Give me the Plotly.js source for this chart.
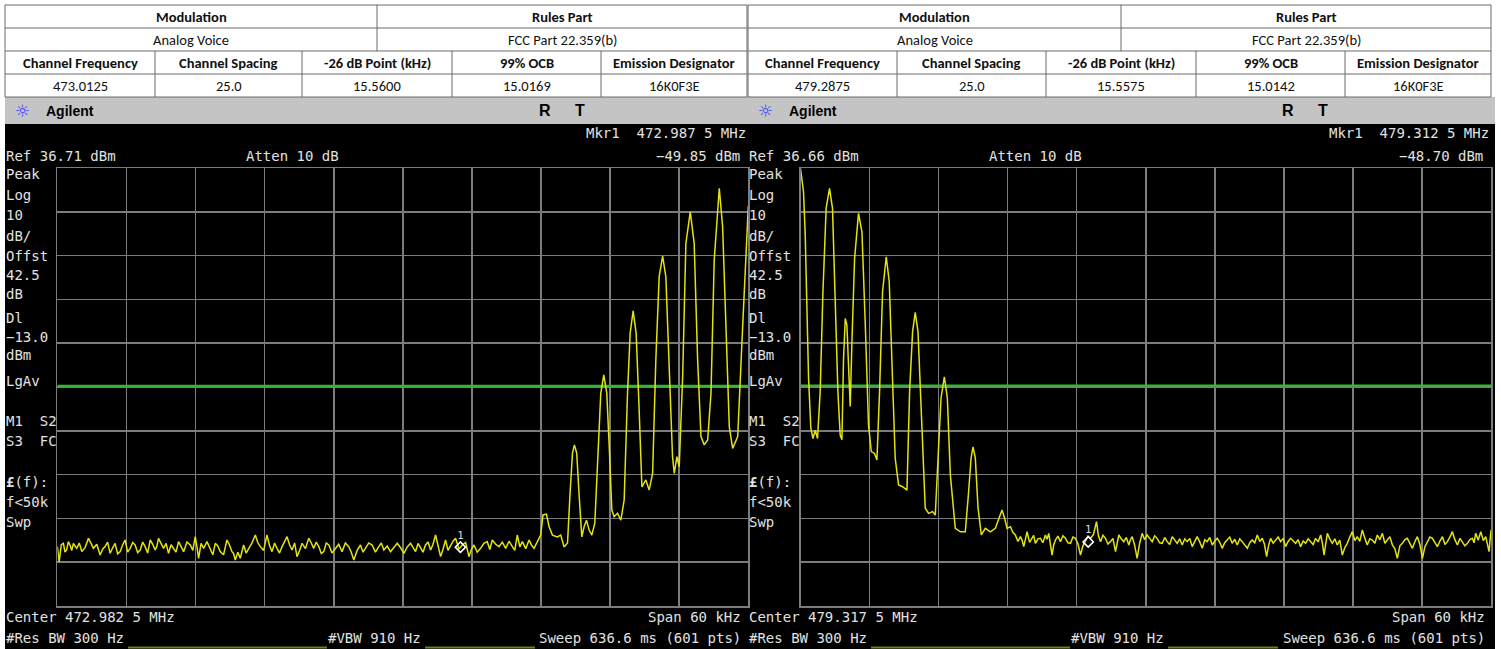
<!DOCTYPE html>
<html>
<head>
<meta charset="utf-8">
<script src="https://cdn.plot.ly/plotly-3.0.1.min.js"></script>
<style>
html,body{margin:0;padding:0;background:#fff;overflow:hidden;}
#chart{width:1501px;height:649px;}
</style>
</head>
<body>
<div id="chart"></div>
<script>
// ---------------- DATA ----------------
// table
const topHeaders = ['Modulation', 'Rules Part'];
const leftTopValues = ['Analog Voice', 'FCC Part 22.359(b)'];
const rightTopValues = ['Analog Voice', 'FCC Part 22.359(b)'];
const colHeaders = ['Channel Frequency', 'Channel Spacing', '-26 dB Point (kHz)', '99% OCB', 'Emission Designator'];
const leftRowValues = ['473.0125', '25.0', '15.5600', '15.0169', '16K0F3E'];
const rightRowValues = ['479.2875', '25.0', '15.5575', '15.0142', '16K0F3E'];

// analyzer settings
const leftRefLevel = 36.71;
const rightRefLevel = 36.66;
const displayLine = [-13.0, -13.0];
const spanEdges = [-30, 30]; // kHz offset from center
const leftMarker = {freq: [5.0], level: [-49.85]};
const rightMarker = {freq: [-5.0], level: [-48.70]};

const leftScreenText = {
  mkr: 'Mkr1  472.987 5 MHz', ref: 'Ref 36.71 dBm', atten: 'Atten 10 dB', mkrVal: '\u221249.85 dBm',
  center: 'Center 472.982 5 MHz', span: 'Span 60 kHz', rbw: '#Res BW 300 Hz', vbw: '#VBW 910 Hz',
  sweep: 'Sweep 636.6 ms (601 pts)'
};
const rightScreenText = {
  mkr: 'Mkr1  479.312 5 MHz', ref: 'Ref 36.66 dBm', atten: 'Atten 10 dB', mkrVal: '\u221248.70 dBm',
  center: 'Center 479.317 5 MHz', span: 'Span 60 kHz', rbw: '#Res BW 300 Hz', vbw: '#VBW 910 Hz',
  sweep: 'Sweep 636.6 ms (601 pts)'
};
const sideLabels = ['Peak', 'Log', '10', 'dB/', 'Offst', '42.5', 'dB', 'Dl', '\u221213.0', 'dBm', 'LgAv', 'M1  S2', 'S3  FC', '<b>\u00a3</b>(f):', 'f<50k', 'Swp'];

// left trace: frequency offset (kHz) and level (dBm)
const leftFreq = [
-30.00,-29.85,-29.66,-29.48,-29.34,-29.20,-29.05,-28.90,-28.75,-28.61,-28.46,-28.32,-28.10,-27.88,-27.59,-27.30,
-27.08,-26.87,-26.58,-26.29,-26.07,-25.86,-25.64,-25.42,-25.20,-24.99,-24.77,-24.55,-24.33,-24.12,-23.90,-23.68,
-23.46,-23.25,-23.03,-22.81,-22.59,-22.38,-22.16,-21.94,-21.72,-21.51,-21.36,-21.22,-21.00,-20.78,-20.56,-20.35,
-20.13,-19.91,-19.70,-19.48,-19.26,-19.04,-18.75,-18.46,-18.24,-18.03,-17.88,-17.74,-17.52,-17.30,-17.01,-16.72,
-16.50,-16.29,-16.07,-15.86,-15.57,-15.28,-15.06,-14.84,-14.70,-14.55,-14.33,-14.12,-13.97,-13.83,-13.61,-13.39,
-13.10,-12.81,-12.60,-12.38,-12.09,-11.80,-11.58,-11.36,-11.14,-10.93,-10.71,-10.49,-10.28,-10.06,-9.84,-9.62,
-9.40,-9.19,-8.97,-8.75,-8.46,-8.17,-7.95,-7.74,-7.52,-7.30,-7.08,-6.87,-6.65,-6.43,-6.15,-5.86,-5.57,-5.28,
-4.99,-4.70,-4.48,-4.26,-3.97,-3.68,-3.46,-3.25,-2.96,-2.67,-2.38,-2.09,-1.87,-1.65,-1.36,-1.07,-0.78,-0.49,
-0.20,0.09,0.38,0.67,0.88,1.10,1.32,1.54,1.75,1.97,2.19,2.41,2.62,2.84,3.06,3.28,3.50,3.71,3.92,4.14,4.36,4.58,
4.87,5.16,5.45,5.74,5.95,6.17,6.46,6.75,7.04,7.33,7.55,7.77,8.06,8.35,8.64,8.93,9.22,9.51,9.72,9.94,10.16,10.38,
10.67,10.96,11.17,11.39,11.54,
11.69,11.97,12.17,12.47,12.70,12.99,13.42,13.71,14.00,14.30,14.52,14.73,14.90,15.10,15.30,15.54,15.74,
15.95,16.17,16.41,16.67,16.90,17.19,17.45,17.71,17.91,18.15,18.35,18.64,18.93,19.22,19.51,19.74,20.00,20.26,20.52,
20.76,21.10,21.39,21.69,21.97,22.26,22.56,22.84,23.13,23.42,23.57,23.80,24.00,24.30,24.58,24.96,25.30,25.60,25.89,
26.17,26.47,26.76,27.04,27.48,27.77,28.06,28.35,28.64,29.08,29.51,29.95,30.00];
const leftLevel = [
-49.7,-53.2,-49.3,-48.98,-51.0,-50.5,-48.6,-49.4,-50.6,-48.98,-49.6,-50.12,-48.9,-50.88,-49.9,-47.84,
-49.0,-50.12,-49.2,-51.64,-50.3,-49.74,-48.7,-51.26,-50.0,-48.98,-51.4,-50.88,-49.3,-48.22,-51.0,-50.12,
-48.8,-49.36,-51.1,-50.50,-48.7,-49.74,-51.2,-48.22,-49.2,-50.50,-49.6,-47.84,-49.0,-50.12,-49.0,-51.26,
-49.3,-50.12,-51.0,-48.60,-49.6,-50.88,-48.7,-49.36,-50.6,-47.46,-49.8,-52.40,-49.0,-50.12,-48.6,-50.50,
-51.6,-48.98,-49.6,-50.88,-51.6,-48.22,-49.3,-50.88,-51.3,-52.78,-51.0,-52.40,-50.5,-49.36,-51.2,-50.12,
-48.9,-47.08,-48.8,-49.74,-50.6,-47.08,-49.5,-50.88,-48.9,-50.12,-51.2,-49.74,-48.7,-47.46,-49.3,-50.50,
-48.9,-52.02,-50.6,-48.98,-50.2,-47.84,-48.9,-50.12,-48.7,-49.74,-51.3,-50.88,-48.9,-49.36,-51.2,-50.12,-49.2,-50.88,
-48.9,-49.74,-51.0,-52.78,-50.6,-49.36,-51.0,-50.12,-48.9,-49.36,-51.0,-49.74,-48.9,-50.50,-49.6,-50.88,-49.9,-48.98,
-50.0,-51.26,-49.8,-48.98,-49.9,-50.88,-49.0,-50.12,-51.0,-49.36,-48.7,-50.50,-49.2,-47.08,-49.6,-52.02,-50.2,-48.22,-50.6,-49.36,-48.5,-47.84,
-50.3,-49.36,-48.8,-52.02,-50.4,-49.36,-51.0,-50.12,-49.0,-48.60,-50.4,-48.22,-49.2,-49.74,-48.7,-50.12,-48.5,-49.74,-50.6,-47.08,-49.8,-48.60,
-50.2,-48.22,-49.4,-50.12,-49.3,
-48.6,-47.1,-42.5,-42.3,-45.2,-47.1,-47.5,-47.1,-49.8,-48.9,-37.6,-28.4,-26.5,-28.4,-37.6,-47.5,-45.2,
-43.7,-45.9,-47.1,-44.4,-29.9,-14.7,-10.5,-14.7,-26.1,-41.4,-42.9,-42.1,-43.7,-39.1,-14.7,-1.0,4.1,-1.0,-18.5,
-36.1,-34.5,-36.8,-33.0,-7.1,11.9,16.6,11.9,-10.9,-29.2,-33.0,-29.2,-31.5,-10.9,19.5,26.7,19.5,-7.1,-24.6,
-26.5,-25.4,-14.7,15.7,32.1,23.3,0.5,-22.4,-27.3,-24.6,0.5,27.1,28.0];

// right trace
const rightFreq = [
-30.00,-29.74,-29.59,-29.44,-29.30,-29.10,-28.92,-28.72,-28.52,-28.29,-28.05,-27.77,-27.48,-27.22,-26.98,-26.75,
-26.55,-26.40,-26.26,-26.11,-25.97,-25.83,-25.68,-25.53,-25.30,-24.96,-24.66,-24.37,-24.09,-23.85,-23.57,-23.36,
-23.13,-22.87,-22.55,-22.29,-22.05,-21.77,-21.48,-21.13,-20.75,-20.52,-20.26,-20.03,-19.79,-19.50,-19.16,-18.87,
-18.52,-18.29,-18.05,-17.79,-17.50,-17.24,-16.98,-16.55,-16.11,-15.68,-15.39,-15.18,-15.01,-14.81,-14.57,-14.29,
-13.94,-13.50,-13.07,-12.72,-12.49,-12.26,-12.05,
-11.76,-11.55,-11.33,-11.11,-10.89,-10.75,-10.60,-10.45,-10.31,-10.10,-9.88,-9.74,-9.59,-9.37,-9.15,-8.94,-8.72,
-8.58,-8.43,-8.29,-8.14,-8.00,-7.85,-7.63,-7.41,-7.20,-6.98,-6.76,-6.54,-6.33,-6.11,-5.89,-5.67,-5.46,-5.24,-5.02,
-4.80,-4.54,-4.28,-4.11,-3.93,-3.72,-3.50,-3.29,-3.07,-2.85,-2.63,-2.49,-2.34,-2.13,-1.91,-1.69,-1.47,-1.33,-1.18,
-0.97,-0.75,-0.53,-0.31,-0.10,0.12,0.34,0.56,0.78,0.99,1.21,1.43,1.65,1.86,2.08,2.30,2.52,2.73,2.95,3.17,3.39,
3.60,3.82,4.04,4.26,4.47,4.69,4.91,5.13,5.34,5.56,5.78,6.00,6.21,6.43,6.64,6.86,7.08,7.30,7.51,7.73,7.95,8.17,
8.38,8.60,8.82,9.04,9.25,9.47,9.69,9.91,10.12,10.31,10.50,10.68,10.85,11.07,11.28,11.50,11.72,11.94,12.15,12.37,
12.59,12.81,13.02,13.24,13.46,13.68,13.89,14.11,14.33,14.55,14.76,14.98,15.20,15.35,15.49,15.64,15.78,16.00,
16.21,16.43,16.64,16.86,17.08,17.30,17.51,17.73,17.95,18.17,18.38,18.60,18.82,19.04,19.25,19.47,19.69,19.91,
20.12,20.34,20.56,20.78,20.99,21.21,21.43,21.65,21.86,22.08,22.30,22.52,22.73,22.95,23.17,23.39,23.60,23.82,
24.04,24.26,24.47,24.69,24.91,25.13,25.34,25.56,25.78,26.00,26.21,26.43,26.64,26.86,27.08,27.30,27.51,27.73,
27.95,28.17,28.38,28.53,28.67,28.89,29.11,29.33,29.54,29.69,29.83,30.00];
const rightLevel = [
36.5,31.3,21.4,4.6,-11.4,-22.8,-25.1,-23.2,-25.1,-14.4,8.4,27.5,32.0,27.5,8.4,-14.4,
-24.3,-25.4,-6.8,2.3,0.8,-6.8,-17.8,-3.0,16.0,26.3,22.1,0.8,-22.0,-28.1,-28.5,-30.0,
-14.4,8.4,16.4,10.7,-6.8,-29.6,-35.7,-36.1,-36.9,-14.4,-0.7,3.7,-0.7,-18.2,-41.0,-42.2,
-41.8,-42.6,-29.6,-15.9,-11.0,-15.9,-33.4,-45.6,-46.4,-46.4,-37.2,-29.6,-27.0,-29.6,-41.0,-47.1,
-45.6,-46.4,-45.6,-43.3,-41.4,-43.3,-45.6,
-45.23,-46.5,-47.13,-48.6,-47.51,-48.3,-49.79,-48.0,-46.37,-48.8,-47.89,-47.2,-49.03,-48.0,-47.89,-48.9,-47.13,
-48.1,-46.75,-49.2,-51.70,-49.4,-48.27,-47.4,-48.65,-47.3,-47.89,-48.9,-49.03,-47.6,-47.89,-49.2,-51.70,-49.6,-48.65,-47.4,
-47.89,-47.0,-44.09,-47.3,-48.65,-47.2,-47.89,-49.2,-48.65,-47.9,-50.93,-49.0,-47.13,-48.0,-48.65,-47.7,-49.41,-48.2,-47.51,
-49.4,-52.46,-49.0,-46.75,-48.2,-47.13,-47.9,-48.65,-47.3,-47.89,-48.9,-49.03,-47.7,-48.65,-49.3,-47.51,-48.3,-49.03,-48.0,-49.41,-48.0,
-48.65,-47.9,-49.79,-48.6,-47.51,-48.7,-50.17,-48.2,-48.65,-47.7,-49.41,-48.5,-47.89,-48.8,-50.17,-48.9,-48.27,-47.6,-49.03,-48.1,-49.41,-48.0,
-48.65,-49.3,-50.17,-48.9,-48.27,-48.9,-47.13,-48.6,-47.89,-49.2,-52.08,-49.5,-47.89,-49.0,-48.27,-47.6,-48.65,-47.9,-49.79,-48.6,
-47.89,-48.6,-49.03,-48.2,-49.79,-48.5,-49.03,-48.0,-48.65,-49.3,-47.89,-48.7,-47.13,-49.0,-51.70,-48.9,-46.75,-48.1,
-49.03,-48.0,-49.41,-48.3,-51.70,-50.0,-49.03,-47.6,-46.37,-48.4,-47.51,-48.6,-45.99,-47.9,-49.41,-48.0,-48.27,-49.0,
-47.13,-48.2,-46.75,-49.0,-48.27,-47.5,-49.41,-50.3,-52.46,-49.6,-49.03,-48.2,-47.89,-49.0,-50.17,-48.6,-47.51,-49.3,
-52.46,-49.8,-48.65,-47.6,-47.89,-48.9,-49.79,-48.5,-47.51,-49.3,-48.65,-47.6,-46.37,-48.2,-49.41,-47.9,-48.65,-49.6,
-49.03,-48.2,-47.89,-48.9,-46.75,-48.3,-46.37,-48.4,-47.51,-49.2,-50.93,-45.99];

// ---------------- LAYOUT HELPERS ----------------
const W = 1501, H = 649;
const X = p => p / W;
const Y = p => 1 - p / H;
const shapes = [];
const annotations = [];

function rect(x0, y0, x1, y1, fill) {
  shapes.push({type: 'rect', xref: 'paper', yref: 'paper', x0: X(x0), x1: X(x1), y0: Y(y0), y1: Y(y1),
    fillcolor: fill, line: {width: 0}, layer: 'below'});
}
function line(x0, y0, x1, y1, color, width) {
  shapes.push({type: 'line', xref: 'paper', yref: 'paper', x0: X(x0), x1: X(x1), y0: Y(y0), y1: Y(y1),
    line: {color: color, width: width}, layer: 'below'});
}
function text(t, x, y, anchor, font) {
  annotations.push({text: t, xref: 'paper', yref: 'paper', x: X(x), y: Y(y), xanchor: anchor, yanchor: 'middle',
    showarrow: false, font: font, borderpad: 0});
}

const tableFont = {family: 'Carlito, "Liberation Sans", Arial, sans-serif', size: 14.5, color: '#111'};
const tableFontBold = {family: 'Carlito, "Liberation Sans", Arial, sans-serif', size: 14.5, color: '#111', weight: 'bold'};
const monoFont = {family: '"DejaVu Sans Mono", "Liberation Mono", monospace', size: 14, color: '#e2e2e2'};

const rowY = [5, 28, 51, 74, 97];
const borderColor = '#6a6a6a';

function drawTable(x0, split, cols, topVals, rowVals) {
  const x1 = cols[cols.length - 1];
  rowY.forEach(y => line(x0, y, x1, y, borderColor, 1));
  line(x0, 5, x0, 97, borderColor, 1);
  line(x1, 5, x1, 97, borderColor, 1);
  line(split, 5, split, 51, borderColor, 1);
  for (let i = 1; i < cols.length - 1; i++) line(cols[i], 51, cols[i], 97, borderColor, 1);
  text('<b>' + topHeaders[0] + '</b>', (x0 + split) / 2, 17, 'center', tableFontBold);
  text('<b>' + topHeaders[1] + '</b>', (split + x1) / 2, 17, 'center', tableFontBold);
  text(topVals[0], (x0 + split) / 2, 40, 'center', tableFont);
  text(topVals[1], (split + x1) / 2, 40, 'center', tableFont);
  for (let i = 0; i < colHeaders.length; i++) {
    const cx = (cols[i] + cols[i + 1]) / 2;
    text('<b>' + colHeaders[i] + '</b>', cx, 62.5, 'center', tableFontBold);
    text(rowVals[i], cx, 85.5, 'center', tableFont);
  }
}

// backgrounds
rect(5, 97, 1495, 124, '#c4c4c4');
rect(5, 124, 1495, 649, '#000000');

drawTable(5, 377, [5, 155, 302, 452, 601, 747], leftTopValues, leftRowValues);
drawTable(748, 1121, [748, 897, 1046, 1196, 1345, 1491], rightTopValues, rightRowValues);

// Agilent bars
function agilentBar(x0, rx) {
  text('\u263C', x0 + 17, 111, 'center', {family: '"DejaVu Sans", sans-serif', size: 17, color: '#3a3aff'});
  text('<b>Agilent</b>', x0 + 40, 111, 'left', {family: '"Liberation Sans", Arial, sans-serif', size: 14, color: '#000'});
  text('<b>R</b>', rx, 110, 'center', {family: '"Liberation Sans", Arial, sans-serif', size: 16, color: '#000'});
  text('<b>T</b>', rx + 35, 110, 'center', {family: '"Liberation Sans", Arial, sans-serif', size: 16, color: '#000'});
}
agilentBar(5, 545);
agilentBar(748, 1288);

// screen texts
const sideY = [174, 195, 215, 236, 256, 275, 294, 318, 337, 355, 381, 421, 441, 482, 502, 522];
function screenText(s, x0, right, attenX, vbwX, spanRight) {
  text(s.mkr.replace(/ /g, '\u00a0'), right, 133, 'right', monoFont);
  text(s.ref, x0, 156, 'left', monoFont);
  text(s.atten, attenX, 156, 'left', monoFont);
  text(s.mkrVal, right - 6, 156, 'right', monoFont);
  sideLabels.forEach((t, i) => text(t.replace(/  /g, '\u00a0\u00a0'), x0, sideY[i], 'left', monoFont));
  text(s.center, x0, 617, 'left', monoFont);
  text(s.span, spanRight, 617, 'right', monoFont);
  text(s.rbw, x0, 638, 'left', monoFont);
  text(s.vbw, vbwX, 638, 'left', monoFont);
  text(s.sweep, spanRight, 638, 'right', monoFont);
}
screenText(leftScreenText, 5, 747, 245, 327, 742);
screenText(rightScreenText, 748, 1490, 988, 1070, 1486);

// olive status lines at bottom
[[128, 327], [425, 535], [871, 1070], [1168, 1278]].forEach(seg => line(seg[0], 647.5, seg[1], 647.5, '#6f7f14', 2));

// ---------------- TRACES ----------------
const gridColor = '#7c7c7c';
function axisX(d0, d1) {
  return {domain: [X(d0), X(d1)], range: spanEdges, tick0: -30, dtick: 6, showgrid: true, gridcolor: gridColor,
    gridwidth: 1.5, zeroline: false, showticklabels: false, ticks: '', showline: true, mirror: true,
    linecolor: gridColor, linewidth: 1.5, fixedrange: true};
}
function axisY(ref) {
  return {domain: [Y(606), Y(168)], range: [ref - 100, ref], tick0: ref, dtick: 10, showgrid: true, gridcolor: gridColor,
    gridwidth: 1.5, zeroline: false, showticklabels: false, ticks: '', showline: true, mirror: true,
    linecolor: gridColor, linewidth: 1.5, fixedrange: true};
}

const traceColor = '#e3e312';
const dlColor = '#22c322';
const traces = [
  {x: spanEdges, y: displayLine, xaxis: 'x', yaxis: 'y', mode: 'lines', line: {color: dlColor, width: 2}, hoverinfo: 'skip'},
  {x: leftFreq, y: leftLevel, xaxis: 'x', yaxis: 'y', mode: 'lines', line: {color: traceColor, width: 1.5}},
  {x: leftMarker.freq, y: leftMarker.level, xaxis: 'x', yaxis: 'y', mode: 'markers+text', text: ['1'], textposition: 'top center',
    textfont: {family: '"DejaVu Sans Mono", monospace', size: 10, color: '#e0e0e0'},
    marker: {symbol: 'diamond-open', size: 8, color: '#ffffff', line: {width: 1.5, color: '#ffffff'}}},
  {x: spanEdges, y: displayLine, xaxis: 'x2', yaxis: 'y2', mode: 'lines', line: {color: dlColor, width: 2}, hoverinfo: 'skip'},
  {x: rightFreq, y: rightLevel, xaxis: 'x2', yaxis: 'y2', mode: 'lines', line: {color: traceColor, width: 1.5}},
  {x: rightMarker.freq, y: rightMarker.level, xaxis: 'x2', yaxis: 'y2', mode: 'markers+text', text: ['1'], textposition: 'top center',
    textfont: {family: '"DejaVu Sans Mono", monospace', size: 10, color: '#e0e0e0'},
    marker: {symbol: 'diamond-open', size: 8, color: '#ffffff', line: {width: 1.5, color: '#ffffff'}}}
];

const layout = {
  width: W, height: H, margin: {l: 0, r: 0, t: 0, b: 0, pad: 0},
  paper_bgcolor: '#ffffff', plot_bgcolor: 'rgba(0,0,0,0)', showlegend: false,
  xaxis: Object.assign(axisX(57.4, 748.3), {anchor: 'y'}),
  yaxis: Object.assign(axisY(leftRefLevel), {anchor: 'x'}),
  xaxis2: Object.assign(axisX(800.5, 1491), {anchor: 'y2'}),
  yaxis2: Object.assign(axisY(rightRefLevel), {anchor: 'x2'}),
  shapes: shapes, annotations: annotations
};

Plotly.newPlot('chart', traces, layout, {displayModeBar: false, staticPlot: true});
</script>
</body>
</html>
